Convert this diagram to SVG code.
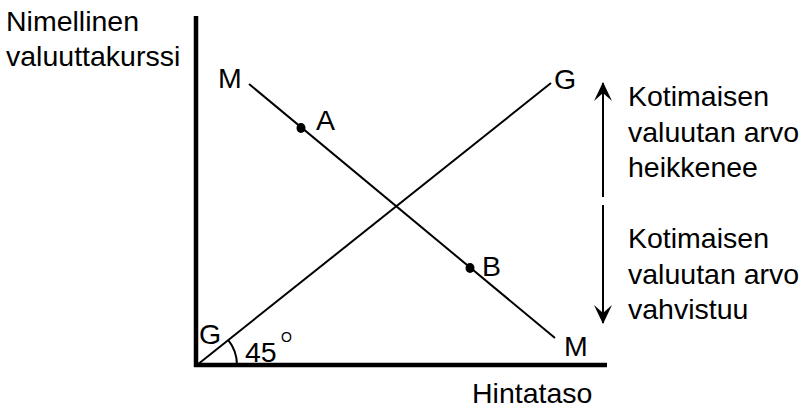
<svg xmlns="http://www.w3.org/2000/svg" width="803" height="410" viewBox="0 0 803 410">
<style>
text{font-family:"Liberation Sans",Arial,sans-serif;font-size:28.5px;fill:#000}
.ln{stroke:#000;stroke-width:2;fill:none}
.ax{stroke:#000;stroke-width:4.5;fill:none}
</style>
<defs>
<marker id="ah" viewBox="0 0 20 20" refX="18" refY="10" markerWidth="20" markerHeight="20" markerUnits="userSpaceOnUse" orient="auto">
<path d="M0,1 L19,10 L0,19 L8,10 Z" fill="#000"/>
</marker>
</defs>
<rect width="803" height="410" fill="#fff"/>
<g id="axes">
<line class="ax" x1="196" y1="16" x2="196" y2="367"/>
<line class="ax" x1="194" y1="365" x2="607" y2="365"/>
<text x="6" y="31">Nimellinen</text>
<text x="6" y="66">valuuttakurssi</text>
<text x="472" y="403">Hintataso</text>
</g>
<g id="connectors">
<line id="GG" class="ln" x1="197" y1="365" x2="551" y2="83"/>
<line id="MM" class="ln" x1="249" y1="84" x2="555" y2="338"/>
<path class="ln" d="M237,365 A40,40 0 0 0 228.3,340.1" stroke-width="1.2"/>
<line class="ln" x1="603" y1="197" x2="603" y2="83" marker-end="url(#ah)"/>
<line class="ln" x1="603" y1="205" x2="603" y2="323" marker-end="url(#ah)"/>
</g>
<g id="nodeA">
<ellipse cx="301" cy="128" rx="4.5" ry="5" fill="#000"/>
<text x="316" y="130">A</text>
</g>
<g id="nodeB">
<ellipse cx="470" cy="268" rx="4.5" ry="5" fill="#000"/>
<text x="482" y="276">B</text>
</g>
<g id="labels">
<text x="218" y="88">M</text>
<text x="564" y="356">M</text>
<text x="554" y="89">G</text>
<text x="199" y="344">G</text>
<text x="245" y="362">45</text>
<text x="281" y="342" style="font-size:14px">O</text>
</g>
<g id="texts">
<text x="628" y="106">Kotimaisen</text>
<text x="628" y="142">valuutan arvo</text>
<text x="628" y="177">heikkenee</text>
<text x="628" y="248">Kotimaisen</text>
<text x="628" y="284">valuutan arvo</text>
<text x="628" y="319">vahvistuu</text>
</g>
</svg>
